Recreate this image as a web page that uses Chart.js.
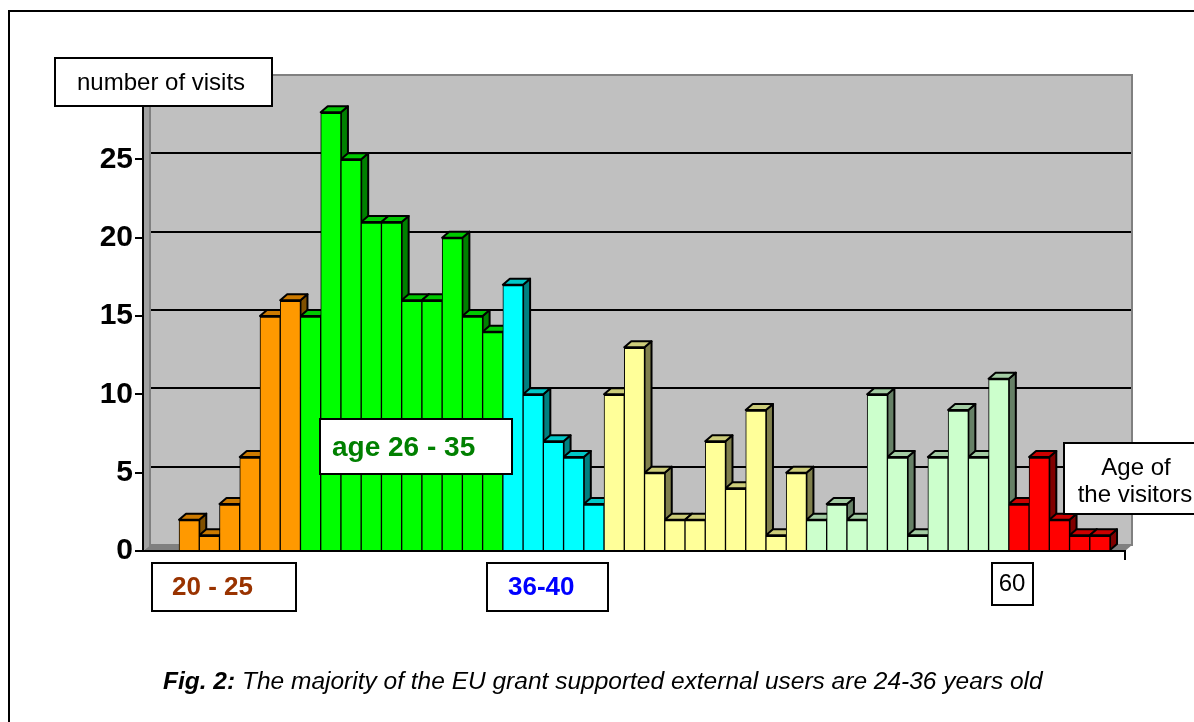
<!DOCTYPE html>
<html>
<head>
<meta charset="utf-8">
<script src="https://cdn.jsdelivr.net/npm/chart.js@4/dist/chart.umd.min.js"></script>
<style>
  html, body { margin: 0; padding: 0; background: #fff; }
  #wrap { width: 1194px; height: 722px; }
</style>
</head>
<body>
<div id="wrap"><canvas id="chart" width="1194" height="722"></canvas></div>
<script>
// Number of visits for each age of visitor
const ages = [20, 21, 22, 23, 24, 25, 26, 27, 28, 29, 30, 31, 32, 33, 34, 35,
  36, 37, 38, 39, 40, 41, 42, 43, 44, 45, 46, 47, 48, 49, 50,
  51, 52, 53, 54, 55, 56, 57, 58, 59, 60, 61, 62, 63, 64, 65];
const visits = [2, 1, 3, 6, 15, 16, 15, 28, 25, 21, 21, 16, 16, 20, 15, 14,
  17, 10, 7, 6, 3, 10, 13, 5, 2, 2, 7, 4, 9, 1, 5,
  2, 3, 2, 10, 6, 1, 6, 9, 6, 11, 3, 6, 2, 1, 1];
// last age of each colour group
const groupEnds = [25, 35, 40, 50, 60, 65];
const yTicks = [0, 5, 10, 15, 20, 25];

// colours for the front, top and side of the 3D bars
const frontColors = ['#FF9900', '#00FF00', '#00FFFF', '#FFFF99', '#CCFFCC', '#FF0000'];
const topColors = ['#CC7A00', '#00C800', '#00C8C8', '#CCCC7A', '#A3CCA3', '#CC0000'];
const sideColors = ['#805000', '#008000', '#008080', '#80804D', '#668066', '#800000'];

const DX = 7, DY = -6; // depth of the 3D look
const FONT = 'Arial, "Liberation Sans", sans-serif';

function groupOf(age) {
  return groupEnds.findIndex(e => age <= e);
}

function poly(ctx, pts, fill, stroke) {
  ctx.beginPath();
  ctx.moveTo(pts[0][0], pts[0][1]);
  pts.slice(1).forEach(p => ctx.lineTo(p[0], p[1]));
  ctx.closePath();
  ctx.fillStyle = fill;
  ctx.fill();
  if (stroke) {
    ctx.strokeStyle = stroke;
    ctx.lineWidth = 2;
    ctx.lineJoin = 'round';
    ctx.stroke();
  }
}

function box(ctx, x, y, w, h) {
  ctx.fillStyle = '#fff';
  ctx.fillRect(x, y, w, h);
  ctx.strokeStyle = '#000';
  ctx.lineWidth = 2;
  ctx.strokeRect(x, y, w, h);
}

// background, frame, back wall, left wall, floor and gridlines
const walls = {
  id: 'walls',
  beforeDraw(chart) {
    const { ctx, chartArea: a } = chart;
    const y = chart.scales.y;
    ctx.save();
    ctx.fillStyle = '#fff';
    ctx.fillRect(0, 0, chart.width, chart.height);

    ctx.strokeStyle = '#000';
    ctx.lineWidth = 2;
    ctx.beginPath();
    ctx.moveTo(9, chart.height + 2);
    ctx.lineTo(9, 11);
    ctx.lineTo(chart.width + 2, 11);
    ctx.stroke();

    const l = a.left + DX, r = a.right + DX, t = a.top + DY, b = a.bottom + DY;
    poly(ctx, [[a.left, a.top], [l, t], [l, b], [a.left, a.bottom]], '#A0A0A0');
    poly(ctx, [[a.left, a.bottom], [l, b], [r, b], [a.right, a.bottom]], '#808080');
    ctx.fillStyle = '#C0C0C0';
    ctx.fillRect(l, t, r - l, b - t);
    ctx.strokeStyle = '#808080';
    ctx.lineWidth = 2;
    ctx.strokeRect(l, t, r - l, b - t);

    ctx.strokeStyle = '#000';
    ctx.lineWidth = 2;
    yTicks.slice(1).forEach(v => {
      const py = Math.round(y.getPixelForValue(v) + DY);
      ctx.beginPath();
      ctx.moveTo(l + 1, py);
      ctx.lineTo(r - 1, py);
      ctx.stroke();
    });
    ctx.restore();
  }
};

// top and side faces of each bar, drawn before the front faces
const bars3d = {
  id: 'bars3d',
  beforeDatasetsDraw(chart) {
    const ctx = chart.ctx;
    ctx.save();
    chart.getDatasetMeta(0).data.forEach((bar, i) => {
      const g = groupOf(ages[i]);
      const { x, y, base, width } = bar.getProps(['x', 'y', 'base', 'width'], true);
      const L = x - width / 2, R = x + width / 2;
      poly(ctx, [[R, y], [R + DX, y + DY], [R + DX, base + DY], [R, base]], sideColors[g], '#000');
      poly(ctx, [[L, y], [L + DX, y + DY], [R + DX, y + DY], [R, y]], topColors[g], '#000');
    });
    ctx.restore();
  }
};

// text boxes and the figure caption
const notes = {
  id: 'notes',
  afterDraw(chart) {
    const ctx = chart.ctx;
    ctx.save();
    ctx.textBaseline = 'middle';

    box(ctx, 55, 58, 217, 48);
    ctx.fillStyle = '#000';
    ctx.font = '24px ' + FONT;
    ctx.textAlign = 'left';
    ctx.fillText('number of visits', 77, 83);

    box(ctx, 320, 419, 192, 55);
    ctx.fillStyle = '#008000';
    ctx.font = 'bold 28px ' + FONT;
    ctx.fillText('age 26 - 35', 332, 448);

    box(ctx, 152, 563, 144, 48);
    ctx.fillStyle = '#993300';
    ctx.font = 'bold 26px ' + FONT;
    ctx.fillText('20 - 25', 172, 588);

    box(ctx, 487, 563, 121, 48);
    ctx.fillStyle = '#0000FF';
    ctx.fillText('36-40', 508, 588);

    box(ctx, 992, 563, 41, 42);
    ctx.fillStyle = '#000';
    ctx.font = '24px ' + FONT;
    ctx.textAlign = 'center';
    ctx.fillText('60', 1012, 584);

    box(ctx, 1064, 443, 140, 71);
    ctx.fillStyle = '#000';
    ctx.fillText('Age of', 1136, 468);
    ctx.fillText('the visitors', 1135, 495);

    ctx.textAlign = 'left';
    ctx.font = 'italic bold 24.5px ' + FONT;
    const head = 'Fig. 2:';
    ctx.fillText(head, 163, 682);
    const hw = ctx.measureText(head).width;
    ctx.font = 'italic 24.5px ' + FONT;
    ctx.fillText(' The majority of the EU grant supported external users are 24-36 years old', 163 + hw, 682);
    ctx.restore();
  }
};

new Chart(document.getElementById('chart'), {
  type: 'bar',
  data: {
    datasets: [{
      label: 'number of visits',
      data: ages.map((a, i) => ({ x: a, y: visits[i] })),
      backgroundColor: ages.map(a => frontColors[groupOf(a)]),
      borderColor: '#000',
      borderWidth: { top: 2, left: 1, right: 1, bottom: 0 },
      borderSkipped: 'start',
      categoryPercentage: 1,
      barPercentage: 1
    }]
  },
  options: {
    responsive: false,
    animation: false,
    layout: { padding: { top: 81, right: 69, bottom: 0, left: 0 } },
    plugins: {
      legend: { display: false },
      tooltip: { enabled: false }
    },
    scales: {
      x: {
        type: 'linear',
        bounds: 'data',
        offset: false,
        min: 17.72,
        max: 66.24,
        afterBuildTicks: s => { s.ticks = [{ value: s.max }]; },
        ticks: { display: false },
        grid: { offset: false, drawOnChartArea: false, color: '#000', lineWidth: 2, tickLength: 9 },
        border: { color: '#000', width: 2 },
        afterFit: s => { s.height = 171; }
      },
      y: {
        min: 0,
        max: 30,
        afterBuildTicks: s => { s.ticks = yTicks.map(v => ({ value: v })); },
        ticks: {
          color: '#000',
          padding: 2,
          font: { family: FONT, size: 30, weight: 'bold' }
        },
        grid: { drawOnChartArea: false, color: '#000', lineWidth: 2, tickLength: 8 },
        border: { color: '#000', width: 2 },
        afterFit: s => { s.width = 143; }
      }
    }
  },
  plugins: [walls, bars3d, notes]
});
</script>
</body>
</html>
